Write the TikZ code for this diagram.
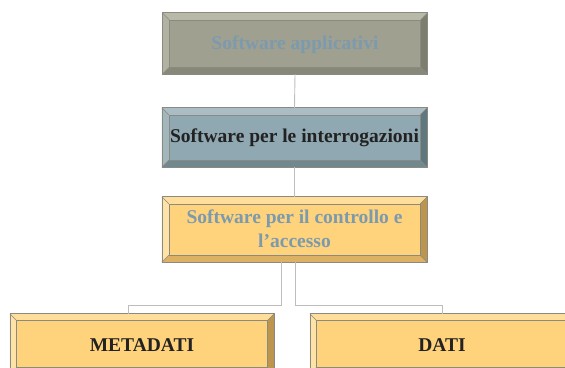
\documentclass[tikz,border=0pt]{standalone}
\usepackage{fontspec}
\setmainfont{Liberation Serif}
\usetikzlibrary{calc}
\definecolor{faceA}{HTML}{A0A090}
\definecolor{topA}{HTML}{B9B9AA}
\definecolor{leftA}{HTML}{B2B2A2}
\definecolor{rightA}{HTML}{7E7E6E}
\definecolor{botA}{HTML}{88887A}
\definecolor{faceB}{HTML}{8FA8B1}
\definecolor{topB}{HTML}{AABDC4}
\definecolor{leftB}{HTML}{A2B6BE}
\definecolor{rightB}{HTML}{5F7880}
\definecolor{botB}{HTML}{70888F}
\definecolor{faceC}{HTML}{FFD27C}
\definecolor{topC}{HTML}{FFDE9C}
\definecolor{leftC}{HTML}{FFE2A6}
\definecolor{rightC}{HTML}{BC954E}
\definecolor{botC}{HTML}{DEB064}
\definecolor{txtblue}{HTML}{7C9AAE}
\definecolor{txtdark}{HTML}{222222}
\definecolor{edge}{HTML}{8A8A80}
\definecolor{conn}{HTML}{BDBDBD}
\newcommand{\bevelbox}[6]{%
  % #1 name, #2 top, #3 left, #4 right, #5 bottom, #6 bevel width
  \fill[#2] (#1.north west) -- (#1.north east) -- ([shift={(-#6,-#6)}]#1.north east) -- ([shift={(#6,-#6)}]#1.north west) -- cycle;
  \fill[#5] (#1.south west) -- (#1.south east) -- ([shift={(-#6,#6)}]#1.south east) -- ([shift={(#6,#6)}]#1.south west) -- cycle;
  \fill[#3] (#1.north west) -- (#1.south west) -- ([shift={(#6,#6)}]#1.south west) -- ([shift={(#6,-#6)}]#1.north west) -- cycle;
  \fill[#4] (#1.north east) -- (#1.south east) -- ([shift={(-#6,#6)}]#1.south east) -- ([shift={(-#6,-#6)}]#1.north east) -- cycle;
  \draw[edge,line width=0.5pt] ([shift={(#6,-#6)}]#1.north west) rectangle ([shift={(-#6,#6)}]#1.south east);
  \draw[edge,line width=0.5pt] (#1.north west) -- ([shift={(#6,-#6)}]#1.north west);
  \draw[edge,line width=0.5pt] (#1.north east) -- ([shift={(-#6,-#6)}]#1.north east);
  \draw[edge,line width=0.5pt] (#1.south west) -- ([shift={(#6,#6)}]#1.south west);
  \draw[edge,line width=0.5pt] (#1.south east) -- ([shift={(-#6,#6)}]#1.south east);
  \draw[edge,line width=0.6pt] (#1.north west) rectangle (#1.south east);
}
\tikzset{
  box/.style={minimum width=265pt, inner sep=0pt, font=\fontsize{19.5}{24}\selectfont\bfseries, align=center},
  conline/.style={conn, line width=0.9pt},
}
\begin{document}
\begin{tikzpicture}[x=1pt,y=1pt]
\useasboundingbox (0,0) rectangle (565,367);
\node[box, minimum height=61pt, fill=faceA] (a) at (295,323.5) {};
\node[box, minimum height=59pt, fill=faceB] (b) at (294.5,229.5) {};
\node[box, minimum height=65pt, fill=faceC] (c) at (294.5,137.5) {};
\node[box, minimum width=264pt, minimum height=60pt, fill=faceC] (d) at (142,23) {};
\node[box, minimum width=264pt, minimum height=60pt, fill=faceC] (e) at (442,23) {};
\bevelbox{a}{topA}{leftA}{rightA}{botA}{7pt}
\bevelbox{b}{topB}{leftB}{rightB}{botB}{7pt}
\bevelbox{c}{topC}{leftC}{rightC}{botC}{7pt}
\bevelbox{d}{topC}{leftC}{rightC}{botC}{6.5pt}
\bevelbox{e}{topC}{leftC}{rightC}{botC}{6.5pt}
% texts
\node[box, text=txtblue] (ta) at ([yshift=-1pt]a) {Software applicativi};
\node[box, text=txtdark] (tb) at (b) {Software per le interrogazioni};
\node[box, text=txtblue] (tc) at ([yshift=1pt]c) {Software per il controllo e\\l’accesso};
\node[box, minimum width=0pt, text=txtdark] (td) at ([yshift=-1pt]d) {METADATI};
\node[box, minimum width=0pt, text=txtdark] (te) at ([yshift=-1pt]e) {DATI};
% connectors
\draw[conline] (a.south) -- (b.north);
\draw[conline] (b.south) -- (c.north);
\draw[conline] ([xshift=-13.5pt]c.south) -- ++(0,-43pt) -| ([xshift=-14pt]d.north);
\draw[conline] ([xshift=0.5pt]c.south) -- ++(0,-43pt) -| (e.north);
\end{tikzpicture}
\end{document}
